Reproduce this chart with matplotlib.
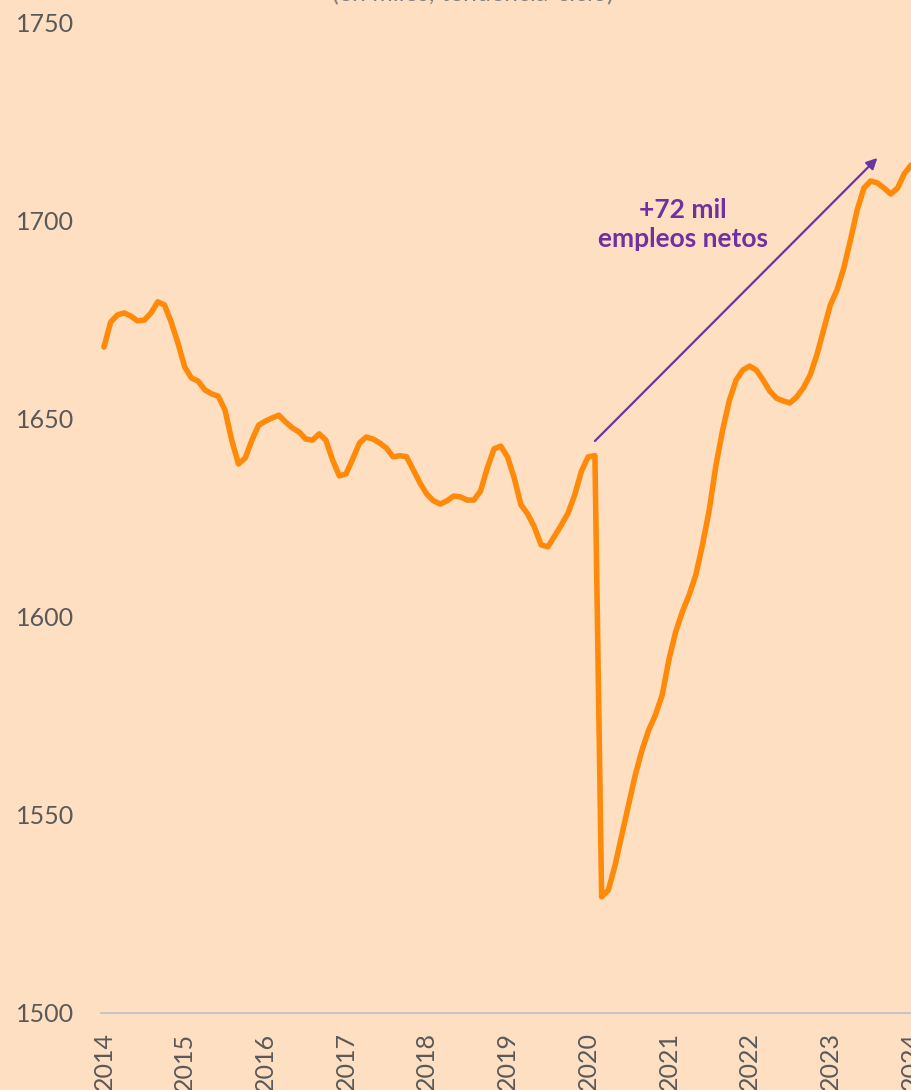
import numpy as np
import matplotlib.pyplot as plt

plt.rcParams['font.family'] = ['Lato', 'DejaVu Sans']

# monthly employment (thousands, trend-cycle), Jan 2014 onwards
years = [str(y) for y in range(2014, 2025)]
values = [
    # 2014
    1668.0, 1674.3, 1676.1, 1676.6, 1675.8, 1674.6, 1674.8, 1676.6, 1679.4, 1678.6, 1674.3, 1669.0,
    # 2015
    1663.0, 1660.2, 1659.4, 1657.2, 1656.2, 1655.6, 1652.1, 1644.5, 1638.5, 1640.0, 1644.5, 1648.3,
    # 2016
    1649.3, 1650.1, 1650.8, 1649.1, 1647.6, 1646.6, 1644.8, 1644.5, 1646.1, 1644.5, 1639.5, 1635.5,
    # 2017
    1636.0, 1639.8, 1643.8, 1645.3, 1644.8, 1643.8, 1642.5, 1640.3, 1640.6, 1640.3, 1637.0, 1633.7,
    # 2018
    1630.9, 1629.2, 1628.4, 1629.2, 1630.4, 1630.2, 1629.4, 1629.4, 1631.7, 1637.5, 1642.3, 1643.0,
    # 2019
    1640.3, 1635.0, 1628.2, 1625.9, 1622.6, 1618.1, 1617.6, 1620.3, 1623.1, 1626.1, 1630.7, 1636.7,
    # 2020
    1640.3, 1640.6, 1529.3, 1531.0, 1537.3, 1544.9, 1552.5, 1560.0, 1566.3, 1571.4, 1575.2, 1580.2,
    # 2021
    1589.1, 1596.1, 1601.2, 1605.4, 1610.5, 1618.1, 1626.9, 1638.2, 1647.1, 1654.6, 1659.7, 1662.2,
    # 2022
    1663.2, 1662.2, 1659.7, 1656.9, 1655.1, 1654.4, 1653.9, 1655.4, 1657.7, 1660.9, 1666.0, 1672.3,
    # 2023
    1678.6, 1682.4, 1687.9, 1695.0, 1702.6, 1708.1, 1709.9, 1709.4, 1708.1, 1706.6, 1708.1, 1711.7,
    # 2024
    1713.9,
]
arrow_from = (73, 1644.3)
arrow_to = (115, 1715.7)
note = "+72 mil\nempleos netos"
subtitle = "(en miles, tendencia-ciclo)"

bg = '#FEDFC2'
W, H = 911, 1090
fig = plt.figure(figsize=(W / 100, H / 100), dpi=100, facecolor=bg)
ax = fig.add_axes([100.6 / W, (H - 1013) / H, 1 - 100.6 / W, (1013 - 22) / H])
ax.set_facecolor(bg)

x = np.arange(len(values))
ax.plot(x, values, color='#FF8A0A', lw=4.0, solid_joinstyle='round', solid_capstyle='round')

ax.set_xlim(-0.5, (W - 104) / 6.75)
ax.set_ylim(1500, 1750)
ax.set_yticks([1500, 1550, 1600, 1650, 1700, 1750])
ax.set_xticks(np.arange(0, 12 * len(years), 12))
ax.set_xticklabels(years, rotation=90, va='top', ha='center')

for s in ['top', 'right', 'left']:
    ax.spines[s].set_visible(False)
ax.spines['bottom'].set_color('#BFBFBF')
ax.spines['bottom'].set_linewidth(1.2)
ax.tick_params(axis='both', length=0, colors='#595959', labelsize=18)
ax.tick_params(axis='y', pad=19)
ax.tick_params(axis='x', pad=14)

ax.annotate('', xy=arrow_to, xytext=arrow_from,
            arrowprops=dict(arrowstyle='-|>', color='#6A35A0', lw=1.6, mutation_scale=16,
                            shrinkA=0, shrinkB=0))
ax.text(86.1, 1698.8, note, color='#7030A0', fontsize=19, fontweight='bold',
        ha='center', va='center', linespacing=1.25)

fig.text(473 / W, (H - 1) / H, subtitle, color='#808080', fontsize=18,
         ha='center', va='baseline')

fig.savefig('out.png', dpi=100, facecolor=bg)
